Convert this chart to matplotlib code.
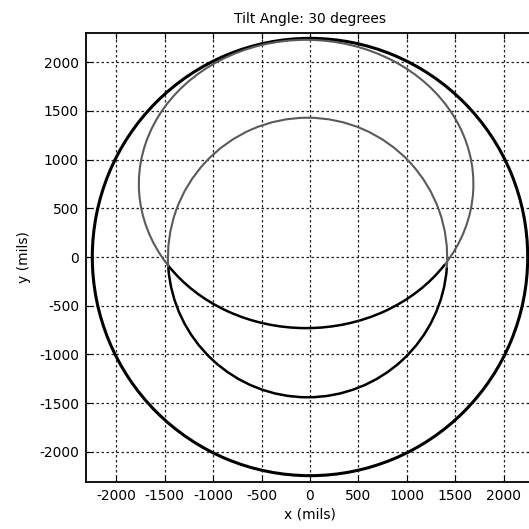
import numpy as np
import matplotlib
matplotlib.use("Agg")
import matplotlib.pyplot as plt
from matplotlib.patches import Arc

plt.rcParams["font.family"] = ["DejaVu Sans"]
plt.rcParams["axes.unicode_minus"] = False

# footprint shapes: (centre x, centre y, full width, full height)
outer_circle = (0, 0, 4490, 4490)
tilt_ellipse = (-40, 750, 3450, 2960)
inner_circle = (-25, -5, 2880, 2870)

# arc split angles (deg): gray upper part / black lower part
ellipse_gray = (-30, 210)
ellipse_black = (210, 330)
inner_gray = (-4, 184)
inner_black = (184, 356)

ticks = [-2000, -1500, -1000, -500, 0, 500, 1000, 1500, 2000]
x_lim = (-2310, 2310)
y_lim = (-2310, 2300)

fig = plt.figure(figsize=(5.29, 5.29), dpi=100)
ax = fig.add_axes([86 / 529, 47 / 529, 448 / 529, 449 / 529])


def add_arc(shape, theta, color, lw):
    cx, cy, w, h = shape
    ax.add_patch(Arc((cx, cy), w, h, theta1=theta[0], theta2=theta[1],
                     color=color, linewidth=lw))


add_arc(outer_circle, (0, 360), "black", 2.2)
add_arc(tilt_ellipse, ellipse_gray, "#5a5a5a", 1.5)
add_arc(tilt_ellipse, ellipse_black, "black", 1.8)
add_arc(inner_circle, inner_gray, "#5a5a5a", 1.5)
add_arc(inner_circle, inner_black, "black", 1.8)

ax.set_xlim(*x_lim)
ax.set_ylim(*y_lim)
ax.set_xticks(ticks)
ax.set_yticks(ticks)
ax.tick_params(direction="in", length=4, top=True, right=True,
               labelsize=10, pad=5)
ax.grid(True, color="#222222", linestyle=(0, (2, 2)), linewidth=0.9)
ax.set_axisbelow(True)
for s in ax.spines.values():
    s.set_linewidth(1.3)

ax.set_title("Tilt Angle: 30 degrees", fontsize=10, pad=7)
ax.set_xlabel("x (mils)", fontsize=10, labelpad=3)
ax.set_ylabel("y (mils)", fontsize=10, labelpad=6)

plt.savefig("out.png", dpi=100)
